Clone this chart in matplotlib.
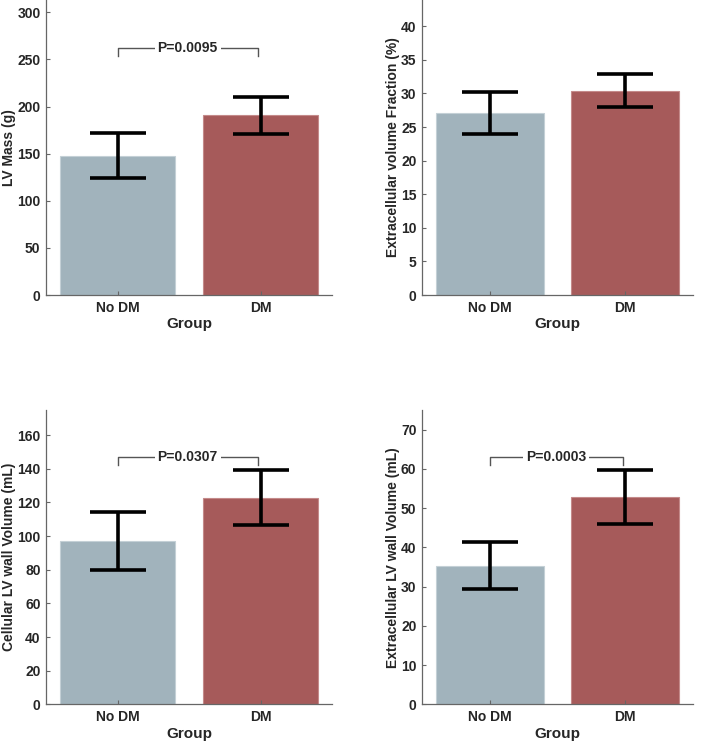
import matplotlib.pyplot as plt

plt.rcParams['font.family'] = ['Liberation Sans', 'DejaVu Sans']
plt.rcParams['font.weight'] = 'bold'

groups = ['No DM', 'DM']
bar_colors = ['#a1b3bc', '#a65a5a']
edge_colors = ['#c4d0d6', '#c48a8a']

# panel data: mean, lower, upper
lv_mass = [148, 190.7]
lv_mass_lo = [124, 171]
lv_mass_hi = [172, 210.5]

ecv = [27.1, 30.4]
ecv_lo = [24.0, 28.0]
ecv_hi = [30.2, 32.9]

cell_vol = [97.0, 122.9]
cell_vol_lo = [80.1, 106.5]
cell_vol_hi = [114.2, 139.6]

ext_vol = [35.3, 52.7]
ext_vol_lo = [29.4, 45.9]
ext_vol_hi = [41.4, 59.7]

panels = [
    dict(vals=lv_mass, lo=lv_mass_lo, hi=lv_mass_hi, ylabel='LV Mass (g)',
         ylim=313, ticks=range(0, 301, 50), p='P=0.0095', br=(262.6, 253.7),
         pos=[0.065, 0.6056, 0.4034, 0.3944]),
    dict(vals=ecv, lo=ecv_lo, hi=ecv_hi, ylabel='Extracellular volume Fraction (%)',
         ylim=43.9, ticks=range(0, 41, 5), p=None, br=None,
         pos=[0.5952, 0.6056, 0.3822, 0.3944]),
    dict(vals=cell_vol, lo=cell_vol_lo, hi=cell_vol_hi, ylabel='Cellular LV wall Volume (mL)',
         ylim=175, ticks=range(0, 161, 20), p='P=0.0307', br=(146.9, 142.4),
         pos=[0.065, 0.0584, 0.4034, 0.3935]),
    dict(vals=ext_vol, lo=ext_vol_lo, hi=ext_vol_hi, ylabel='Extracellular LV wall Volume (mL)',
         ylim=75, ticks=range(0, 71, 10), p='P=0.0003', br=(63.0, 61.0),
         pos=[0.5952, 0.0584, 0.3822, 0.3935]),
]

fig = plt.figure(figsize=(7.09, 7.48), dpi=100)

for pn in panels:
    ax = fig.add_axes(pn['pos'])
    x = [1, 2]
    ax.bar(x, pn['vals'], width=0.8, color=bar_colors, edgecolor=edge_colors, linewidth=0.8, zorder=1)
    yerr = [[v - l for v, l in zip(pn['vals'], pn['lo'])],
            [h - v for v, h in zip(pn['vals'], pn['hi'])]]
    ax.errorbar(x, pn['vals'], yerr=yerr, fmt='none', ecolor='black',
                elinewidth=2.6, capsize=20, capthick=2.6, zorder=3)
    ax.set_xlim(0.5, 2.5)
    ax.set_ylim(0, pn['ylim'])
    ax.set_xticks(x)
    ax.set_xticklabels(groups)
    ax.set_yticks(list(pn['ticks']))
    ax.set_xlabel('Group', fontsize=11, fontweight='bold', color='#262626', labelpad=2)
    ax.set_ylabel(pn['ylabel'], fontsize=10, fontweight='bold', color='#262626', labelpad=1)
    for s in ['top', 'right']:
        ax.spines[s].set_visible(False)
    for s in ['left', 'bottom']:
        ax.spines[s].set_color('#666666')
        ax.spines[s].set_linewidth(0.9)
    ax.tick_params(direction='in', length=3, color='#666666', labelsize=10,
                   labelcolor='#262626', pad=4)
    for lab in ax.get_xticklabels() + ax.get_yticklabels():
        lab.set_fontweight('bold')
    if pn['p']:
        top, low = pn['br']
        ax.plot([1, 1, 1.98, 1.98], [low, top, top, low], color='#555555', lw=1, zorder=2)
        ax.text(1.49, top, pn['p'], ha='center', va='center', fontsize=10,
                fontweight='bold', color='#262626',
                bbox=dict(facecolor='white', edgecolor='none', pad=2), zorder=4)

fig.savefig('out.png', dpi=100)
